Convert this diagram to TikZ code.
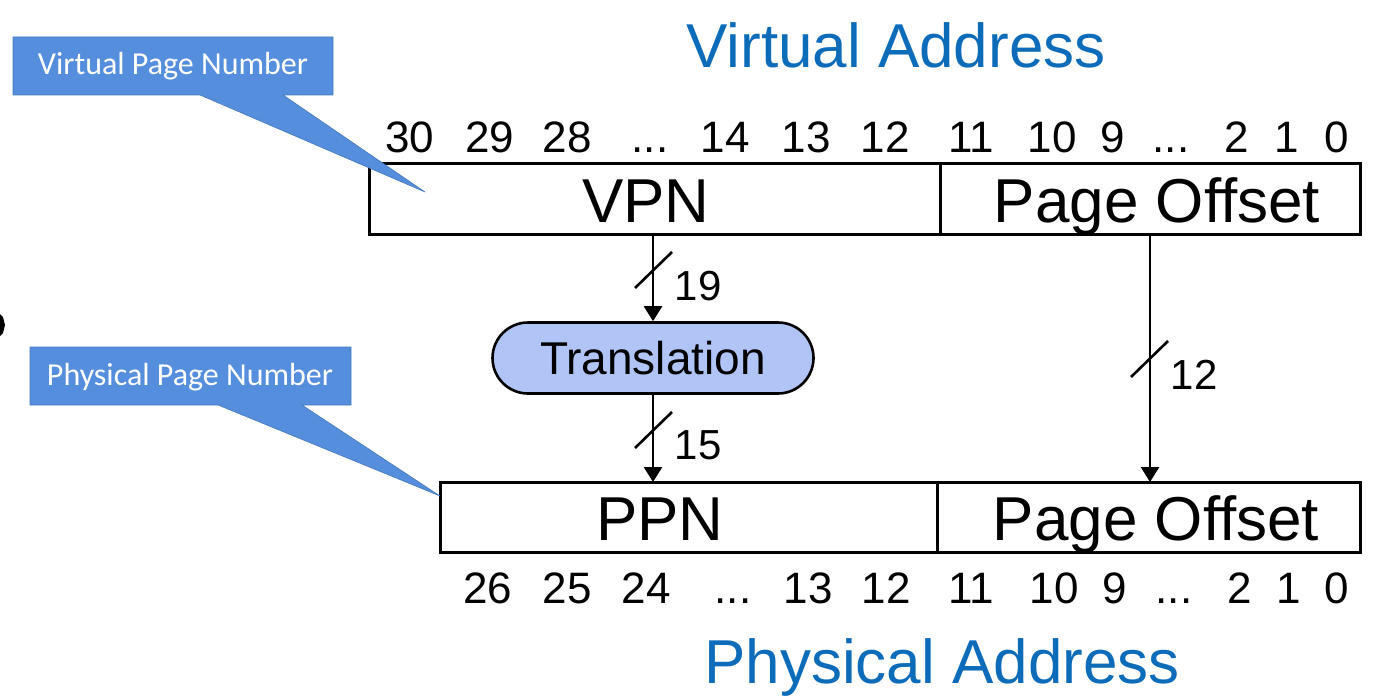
\documentclass[tikz,border=0pt]{standalone}
\usepackage{fontspec}
\setmainfont{Liberation Sans}
\newfontfamily\calib{Carlito}
\usetikzlibrary{arrows.meta,shapes.misc}
\definecolor{titleblue}{RGB}{12,108,186}
\definecolor{callblue}{RGB}{84,142,220}
\definecolor{transblue}{RGB}{176,196,245}
\begin{document}
\begin{tikzpicture}[x=1pt,y=-1pt,
  bignum/.style={font=\fontsize{44}{48}\selectfont, anchor=base, inner sep=0pt},
  field/.style={font=\fontsize{62}{66}\selectfont, anchor=base, inner sep=0pt},
  ttl/.style={font=\fontsize{62}{66}\selectfont, text=titleblue, anchor=base, inner sep=0pt},
  regbox/.style={draw=black, line width=3pt},
  bus/.style={draw=black, line width=2.6pt, -{Triangle[width=18pt,length=15pt]}},
  slashmark/.style={draw=black, line width=2.6pt},
  buslabel/.style={font=\fontsize{42}{46}\selectfont, anchor=base, inner sep=0pt},
  callout/.style={fill=callblue, draw=callblue!85!black, line width=0.6pt},
  calltext/.style={font=\calib\fontsize{32}{36}\selectfont, text=white, inner sep=0pt}
]
\useasboundingbox (0,0) rectangle (1386,698);

% titles
\node[ttl] (vtitle) at (896,68) {Virtual Address};
\node[ttl] (ptitle) at (942,683) {Physical Address};

% upper register
\draw[regbox] (369,163) rectangle (1360,234);
\draw[regbox] (940,163) -- (940,234);
\coordinate (vpnbot) at (653,234);
\coordinate (vpobot) at (1150,234);
\node[field] (vpn) at (646,222) {VPN};
\node[field] (vpo) at (1157,222) {Page Offset};

% upper bit numbers
\foreach \t/\x in {30/410,29/490,28/567,{...}/650,14/725,13/806,12/885,11/971,10/1052,9/1113,{...}/1171,2/1237,1/1287,0/1337}
  \node[bignum] at (\x,152) {\t};

% lower register
\draw[regbox] (440,482) rectangle (1360,552);
\draw[regbox] (937,482) -- (937,552);
\coordinate (ppntop) at (653,482);
\coordinate (ppotop) at (1150,482);
\node[field] (ppn) at (660,540) {PPN};
\node[field] (ppo) at (1156,540) {Page Offset};

% lower bit numbers
\foreach \t/\x in {26/488,25/567,24/646,{...}/733,13/808,12/886,11/971,10/1054,9/1115,{...}/1174,2/1240,1/1289,0/1337}
  \node[bignum] at (\x,603) {\t};

% translation
\node[rounded rectangle, draw=black, line width=2.6pt, fill=transblue,
      minimum width=321pt, minimum height=71pt, inner sep=0pt,
      font=\fontsize{46}{50}\selectfont] (trans) at (653,358) {Translation};

% buses
\draw[bus] (vpnbot) -- (trans.north);
\draw[bus] (trans.south) -- (ppntop);
\draw[bus] (vpobot) -- (ppotop);

% slash marks and widths
\draw[slashmark] (635,288) -- (672,252);
\node[buslabel] (w19) at (698,300) {19};
\draw[slashmark] (635,448) -- (672,412);
\node[buslabel] (w15) at (698,459) {15};
\draw[slashmark] (1131,377) -- (1168,341);
\node[buslabel] (w12) at (1194,389) {12};

% callouts
\draw[callout] (13,37) -- (333,37) -- (333,95) -- (283,95) -- (425,192) -- (200,95) -- (13,95) -- cycle;
\node[calltext] (vpnnote) at (173,66) {Virtual Page Number};
\draw[callout] (30,347) -- (351,347) -- (351,405) -- (302,405) -- (440,496) -- (218,405) -- (30,405) -- cycle;
\node[calltext] (ppnnote) at (190,377) {Physical Page Number};

% small mark on left edge
\fill[black] (0,314) -- (3,317) -- (5,325) -- (3,333) -- (0,336) -- cycle;
\end{tikzpicture}
\end{document}
